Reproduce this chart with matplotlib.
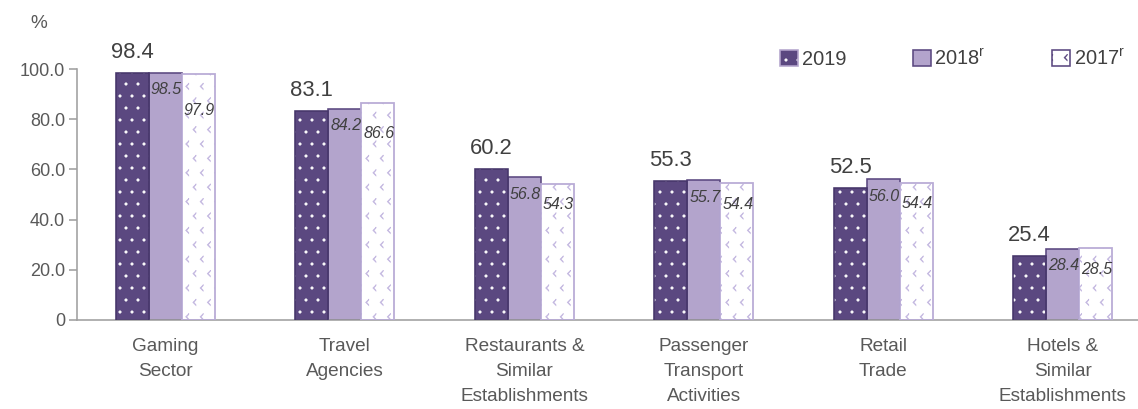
import warnings
warnings.filterwarnings('ignore')
import numpy as np
import matplotlib
matplotlib.use('Agg')
import matplotlib.pyplot as plt
import matplotlib.hatch as mhatch
from matplotlib.path import Path
from matplotlib.patches import Patch
from matplotlib.legend_handler import HandlerTuple

# ---------------- data ----------------
categories = ["Gaming\nSector", "Travel\nAgencies", "Restaurants &\nSimilar\nEstablishments",
              "Passenger\nTransport\nActivities", "Retail\nTrade", "Hotels &\nSimilar\nEstablishments"]
v2019 = [98.4, 83.1, 60.2, 55.3, 52.5, 25.4]
v2018 = [98.5, 84.2, 56.8, 55.7, 56.0, 28.4]
v2017 = [97.9, 86.6, 54.3, 54.4, 54.4, 28.5]
series_labels = ["2019", "2018$^{\\mathregular{r}}$", "2017$^{\\mathregular{r}}$"]
yticks = [0, 20, 40, 60, 80, 100]
ytick_labels = ["0", "20.0", "40.0", "60.0", "80.0", "100.0"]
# label drop (points) for the italic 2017 labels below the bar top
drop2017 = [18, 15.5, 10.5, 10.5, 10, 10.5]

# ---------------- custom chevron hatch ----------------
class ChevronHatch(mhatch.Shapes):
    filled = True
    size = 0.22

    def __init__(self, hatch, density):
        self.num_rows = hatch.count('>') * 10
        verts = np.array([[0.5, 1.0], [-0.5, 0.0], [0.5, -1.0], [0.5, -0.72],
                          [-0.15, 0.0], [0.5, 0.72], [0.5, 1.0]])
        self.shape_vertices = verts
        codes = np.full(len(verts), Path.LINETO, dtype=Path.code_type)
        codes[0] = Path.MOVETO
        self.shape_codes = codes
        super().__init__(hatch, density)

mhatch._hatch_types.append(ChevronHatch)

plt.rcParams['font.family'] = ['Liberation Sans', 'DejaVu Sans']
plt.rcParams['hatch.linewidth'] = 0.3

DPI = 144
fig = plt.figure(figsize=(1138 / DPI, 409 / DPI), dpi=DPI)
ax = fig.add_axes([77 / 1138, (409 - 320) / 409, 1 - 77 / 1138, (320 - 69) / 409])

dark = '#5B4880'
dark_edge = '#46366A'
light = '#B3A4CC'
lav = '#B9ACD6'
chev = '#C3B7E0'
txt = '#404040'
grey_txt = '#595959'
axis_col = '#A0A0A0'

x = np.arange(len(categories))
w = 0.184

ax.bar(x - w, v2019, w, color=dark, edgecolor='white', linewidth=0, hatch='..', zorder=2)
ax.bar(x - w, v2019, w, facecolor='none', edgecolor=dark_edge, linewidth=0.8, zorder=3)
ax.bar(x, v2018, w, color=light, edgecolor=dark, linewidth=0.8, zorder=2)
ax.bar(x + w, v2017, w, color='white', edgecolor=chev, linewidth=0, hatch='>', zorder=2)
ax.bar(x + w, v2017, w, facecolor='none', edgecolor=lav, linewidth=0.9, zorder=3)

for xi, v in zip(x - w, v2019):
    ax.annotate(f"{v:.1f}", (xi, v), xytext=(0, 5), textcoords='offset points',
                ha='center', va='bottom', fontsize=11, color=txt, annotation_clip=False)
for xi, v in zip(x, v2018):
    ax.annotate(f"{v:.1f}", (xi, v), xytext=(0.5, -8.5), textcoords='offset points',
                ha='center', va='center', fontsize=8, style='italic', color=txt, zorder=5)
for xi, v, d in zip(x + w, v2017, drop2017):
    ax.annotate(f"{v:.1f}", (xi, v), xytext=(0.5, -d), textcoords='offset points',
                ha='center', va='center', fontsize=8, style='italic', color=txt, zorder=5)

ax.set_xlim(-0.493, 5.42)
ax.set_ylim(0, 100)
ax.set_yticks(yticks)
ax.set_yticklabels(ytick_labels)
ax.set_xticks(x)
ax.set_xticklabels(categories, linespacing=1.62)

for s in ['top', 'right']:
    ax.spines[s].set_visible(False)
for s in ['left', 'bottom']:
    ax.spines[s].set_color(axis_col)
    ax.spines[s].set_linewidth(0.8)

ax.tick_params(axis='y', direction='out', length=4, width=0.8, color=axis_col,
               labelsize=9, labelcolor=grey_txt, pad=2)
ax.tick_params(axis='x', length=0, labelsize=9.5, labelcolor=grey_txt, pad=9)

fig.text(39 / 1138, 1 - 24 / 409, '%', ha='center', va='center', fontsize=9.5, color=grey_txt)

h19 = (Patch(facecolor=dark, edgecolor='white', linewidth=0, hatch='..'),
       Patch(facecolor='none', edgecolor=light, linewidth=0.8))
h18 = Patch(facecolor=light, edgecolor=dark, linewidth=0.8)
h17 = (Patch(facecolor='white', edgecolor=dark, linewidth=0, hatch='>'),
       Patch(facecolor='none', edgecolor=dark, linewidth=0.8))
leg = fig.legend([h19, h18, h17], series_labels, loc='center left',
                 bbox_to_anchor=(780 / 1138, 1 - 59 / 409), ncol=3, frameon=False,
                 fontsize=10, handlelength=0.9, handleheight=0.9, handletextpad=0.2,
                 columnspacing=3.3, borderpad=0, borderaxespad=0,
                 handler_map={tuple: HandlerTuple(ndivide=1, pad=0)})
for t in leg.get_texts():
    t.set_color(txt)

fig.savefig('out.png', dpi=DPI)
